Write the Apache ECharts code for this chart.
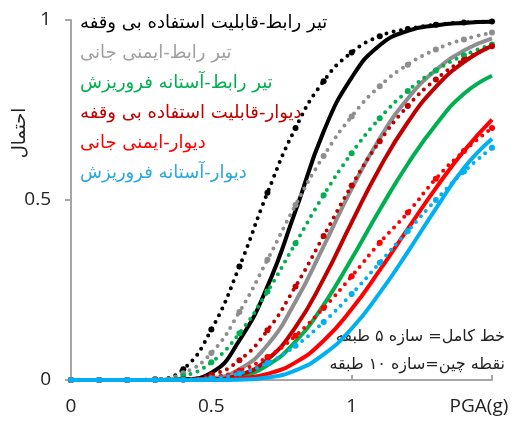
<!DOCTYPE html>
<html>
<head>
<meta charset="utf-8">
<script src="https://cdn.jsdelivr.net/npm/echarts@6/dist/echarts.min.js"></script>
<style>
html,body{margin:0;padding:0;background:#fff;}
#c{width:519px;height:423px;}
</style>
</head>
<body>
<div id="c"></div>
<script>
// PGA (g)
var pga = [0, 0.1, 0.2, 0.3, 0.4, 0.5, 0.6, 0.7, 0.8, 0.9, 1.0, 1.1, 1.2, 1.3, 1.4, 1.5];
var xTicks = ['0', '0.5', '1'];
var yTicks = ['0', '0.5', '1'];
var legendNames = [
  'تیر رابط-قابلیت استفاده بی وقفه',
  'تیر رابط-ایمنی جانی',
  'تیر رابط-آستانه فروریزش',
  'دیوار-قابلیت استفاده بی وقفه',
  'دیوار-ایمنی جانی',
  'دیوار-آستانه فروریزش'
];
var noteSolid = 'خط کامل= سازه ۵ طبقه';
var noteDotted = 'نقطه چین=سازه ۱۰ طبقه';
var yName = 'احتمال';
var xName = 'PGA(g)';

// 5-story (solid) probabilities
var beamIO5 = [0,0,0,0,0.002,0.02,0.11,0.26,0.47,0.69,0.84,0.93,0.97,0.985,0.992,0.995];
var beamLS5 = [0,0,0,0,0,0.005,0.03,0.097,0.218,0.371,0.531,0.671,0.782,0.861,0.915,0.949];
var beamCP5 = [0,0,0,0,0,0.001,0.01,0.041,0.107,0.209,0.337,0.473,0.60,0.709,0.795,0.845];
var wallIO5 = [0,0,0,0,0,0.002,0.014,0.057,0.147,0.281,0.438,0.589,0.716,0.814,0.883,0.928];
var wallLS5 = [0,0,0,0,0,0,0.004,0.017,0.049,0.109,0.197,0.305,0.42,0.533,0.636,0.723];
var wallCP5 = [0,0,0,0,0,0,0.001,0.007,0.027,0.071,0.143,0.242,0.356,0.476,0.589,0.67];
// 10-story (dotted) probabilities
var beamIO10 = [0,0,0,0.002,0.03,0.14,0.315,0.52,0.70,0.83,0.91,0.955,0.975,0.987,0.993,0.996];
var beamLS10 = [0,0,0,0.002,0.019,0.075,0.189,0.334,0.486,0.622,0.732,0.816,0.876,0.918,0.946,0.965];
var beamCP10 = [0,0,0,0.001,0.011,0.049,0.13,0.246,0.38,0.513,0.63,0.727,0.803,0.86,0.902,0.932];
var wallIO10 = [0,0,0,0,0.002,0.014,0.055,0.138,0.26,0.40,0.54,0.663,0.761,0.835,0.889,0.927];
var wallLS10 = [0,0,0,0,0.001,0.0075,0.026,0.064,0.123,0.20,0.288,0.381,0.465,0.559,0.636,0.70];
var wallCP10 = [0,0,0,0,0.001,0.005,0.018,0.047,0.095,0.161,0.239,0.326,0.414,0.5,0.579,0.645];

var colors = ['#000000', '#8e8e8e', '#00b050', '#c00000', '#ff0000', '#00b0f0'];
var legendColors = ['#000000', '#a0a0a0', '#00b050', '#c00000', '#ff0000', '#29a8e0'];
var solidSets = [beamIO5, beamLS5, beamCP5, wallIO5, wallLS5, wallCP5];
var dottedSets = [beamIO10, beamLS10, beamCP10, wallIO10, wallLS10, wallCP10];

function pairs(arr) { return pga.map(function (x, i) { return [x, arr[i]]; }); }

var series = [];
for (var i = 0; i < 6; i++) {
  series.push({
    name: legendNames[i], type: 'line', data: pairs(dottedSets[i]),
    smooth: true, symbol: 'circle', symbolSize: 6, showSymbol: true,
    itemStyle: { color: colors[i] },
    lineStyle: { color: colors[i], width: 4, type: [0, 7.5], cap: 'round' },
    z: 2 + i
  });
  series.push({
    name: legendNames[i], type: 'line', data: pairs(solidSets[i]),
    smooth: true, showSymbol: false, symbol: 'none',
    itemStyle: { color: colors[i] },
    lineStyle: { color: colors[i], width: 4, type: 'solid' },
    z: 2 + i
  });
}

var chart = echarts.init(document.getElementById('c'), null, { renderer: 'canvas' });
chart.setOption({
  animation: false,
  backgroundColor: '#ffffff',
  grid: { left: 71, right: 27, top: 20, bottom: 43 },
  legend: {
    orient: 'vertical', left: 75, top: 13, padding: 0,
    itemWidth: 0, itemHeight: 0, itemGap: 10,
    selectedMode: false,
    data: legendNames.map(function (n, i) {
      return { name: n, icon: 'none', textStyle: { color: legendColors[i] } };
    }),
    textStyle: { fontSize: 18, lineHeight: 20, fontFamily: 'DejaVu Sans' }
  },
  xAxis: {
    type: 'value', min: 0, max: 1.5, interval: 0.5,
    name: xName, nameLocation: 'end', nameGap: -13,
    nameTextStyle: { fontSize: 19, color: '#222', fontFamily: 'Open Sans', align: 'center', verticalAlign: 'top', padding: [17, 0, 0, 0] },
    axisLine: { lineStyle: { color: '#a6a6a6', width: 2 } },
    axisTick: { inside: true, length: 5, lineStyle: { color: '#a6a6a6', width: 2 } },
    splitLine: { show: false },
    axisLabel: {
      margin: 17, fontSize: 19, color: '#222', fontFamily: 'Open Sans',
      formatter: function (v) {
        var idx = Math.round(v / 0.5);
        return idx < xTicks.length ? xTicks[idx] : '';
      }
    }
  },
  yAxis: {
    type: 'value', min: 0, max: 1, interval: 0.5,
    axisLine: { show: true, lineStyle: { color: '#a6a6a6', width: 2 } },
    axisTick: { show: true, inside: false, length: 6, lineStyle: { color: '#a6a6a6', width: 2 } },
    splitLine: { show: false },
    axisLabel: {
      margin: 20, fontSize: 19, color: '#222', fontFamily: 'Open Sans',
      formatter: function (v) { return yTicks[Math.round(v / 0.5)]; }
    }
  },
  graphic: [
    { type: 'text', x: 20, y: 133, rotation: Math.PI / 2,
      style: { text: yName, fontSize: 18, fill: '#222', fontFamily: 'DejaVu Sans', align: 'center', verticalAlign: 'middle' } },
    { type: 'text', x: 505, y: 337,
      style: { text: noteSolid, fontSize: 16, fill: '#222', fontFamily: 'DejaVu Sans', align: 'right', verticalAlign: 'middle' } },
    { type: 'text', x: 505, y: 365,
      style: { text: noteDotted, fontSize: 16, fill: '#222', fontFamily: 'DejaVu Sans', align: 'right', verticalAlign: 'middle' } }
  ],
  series: series
});
</script>
</body>
</html>
